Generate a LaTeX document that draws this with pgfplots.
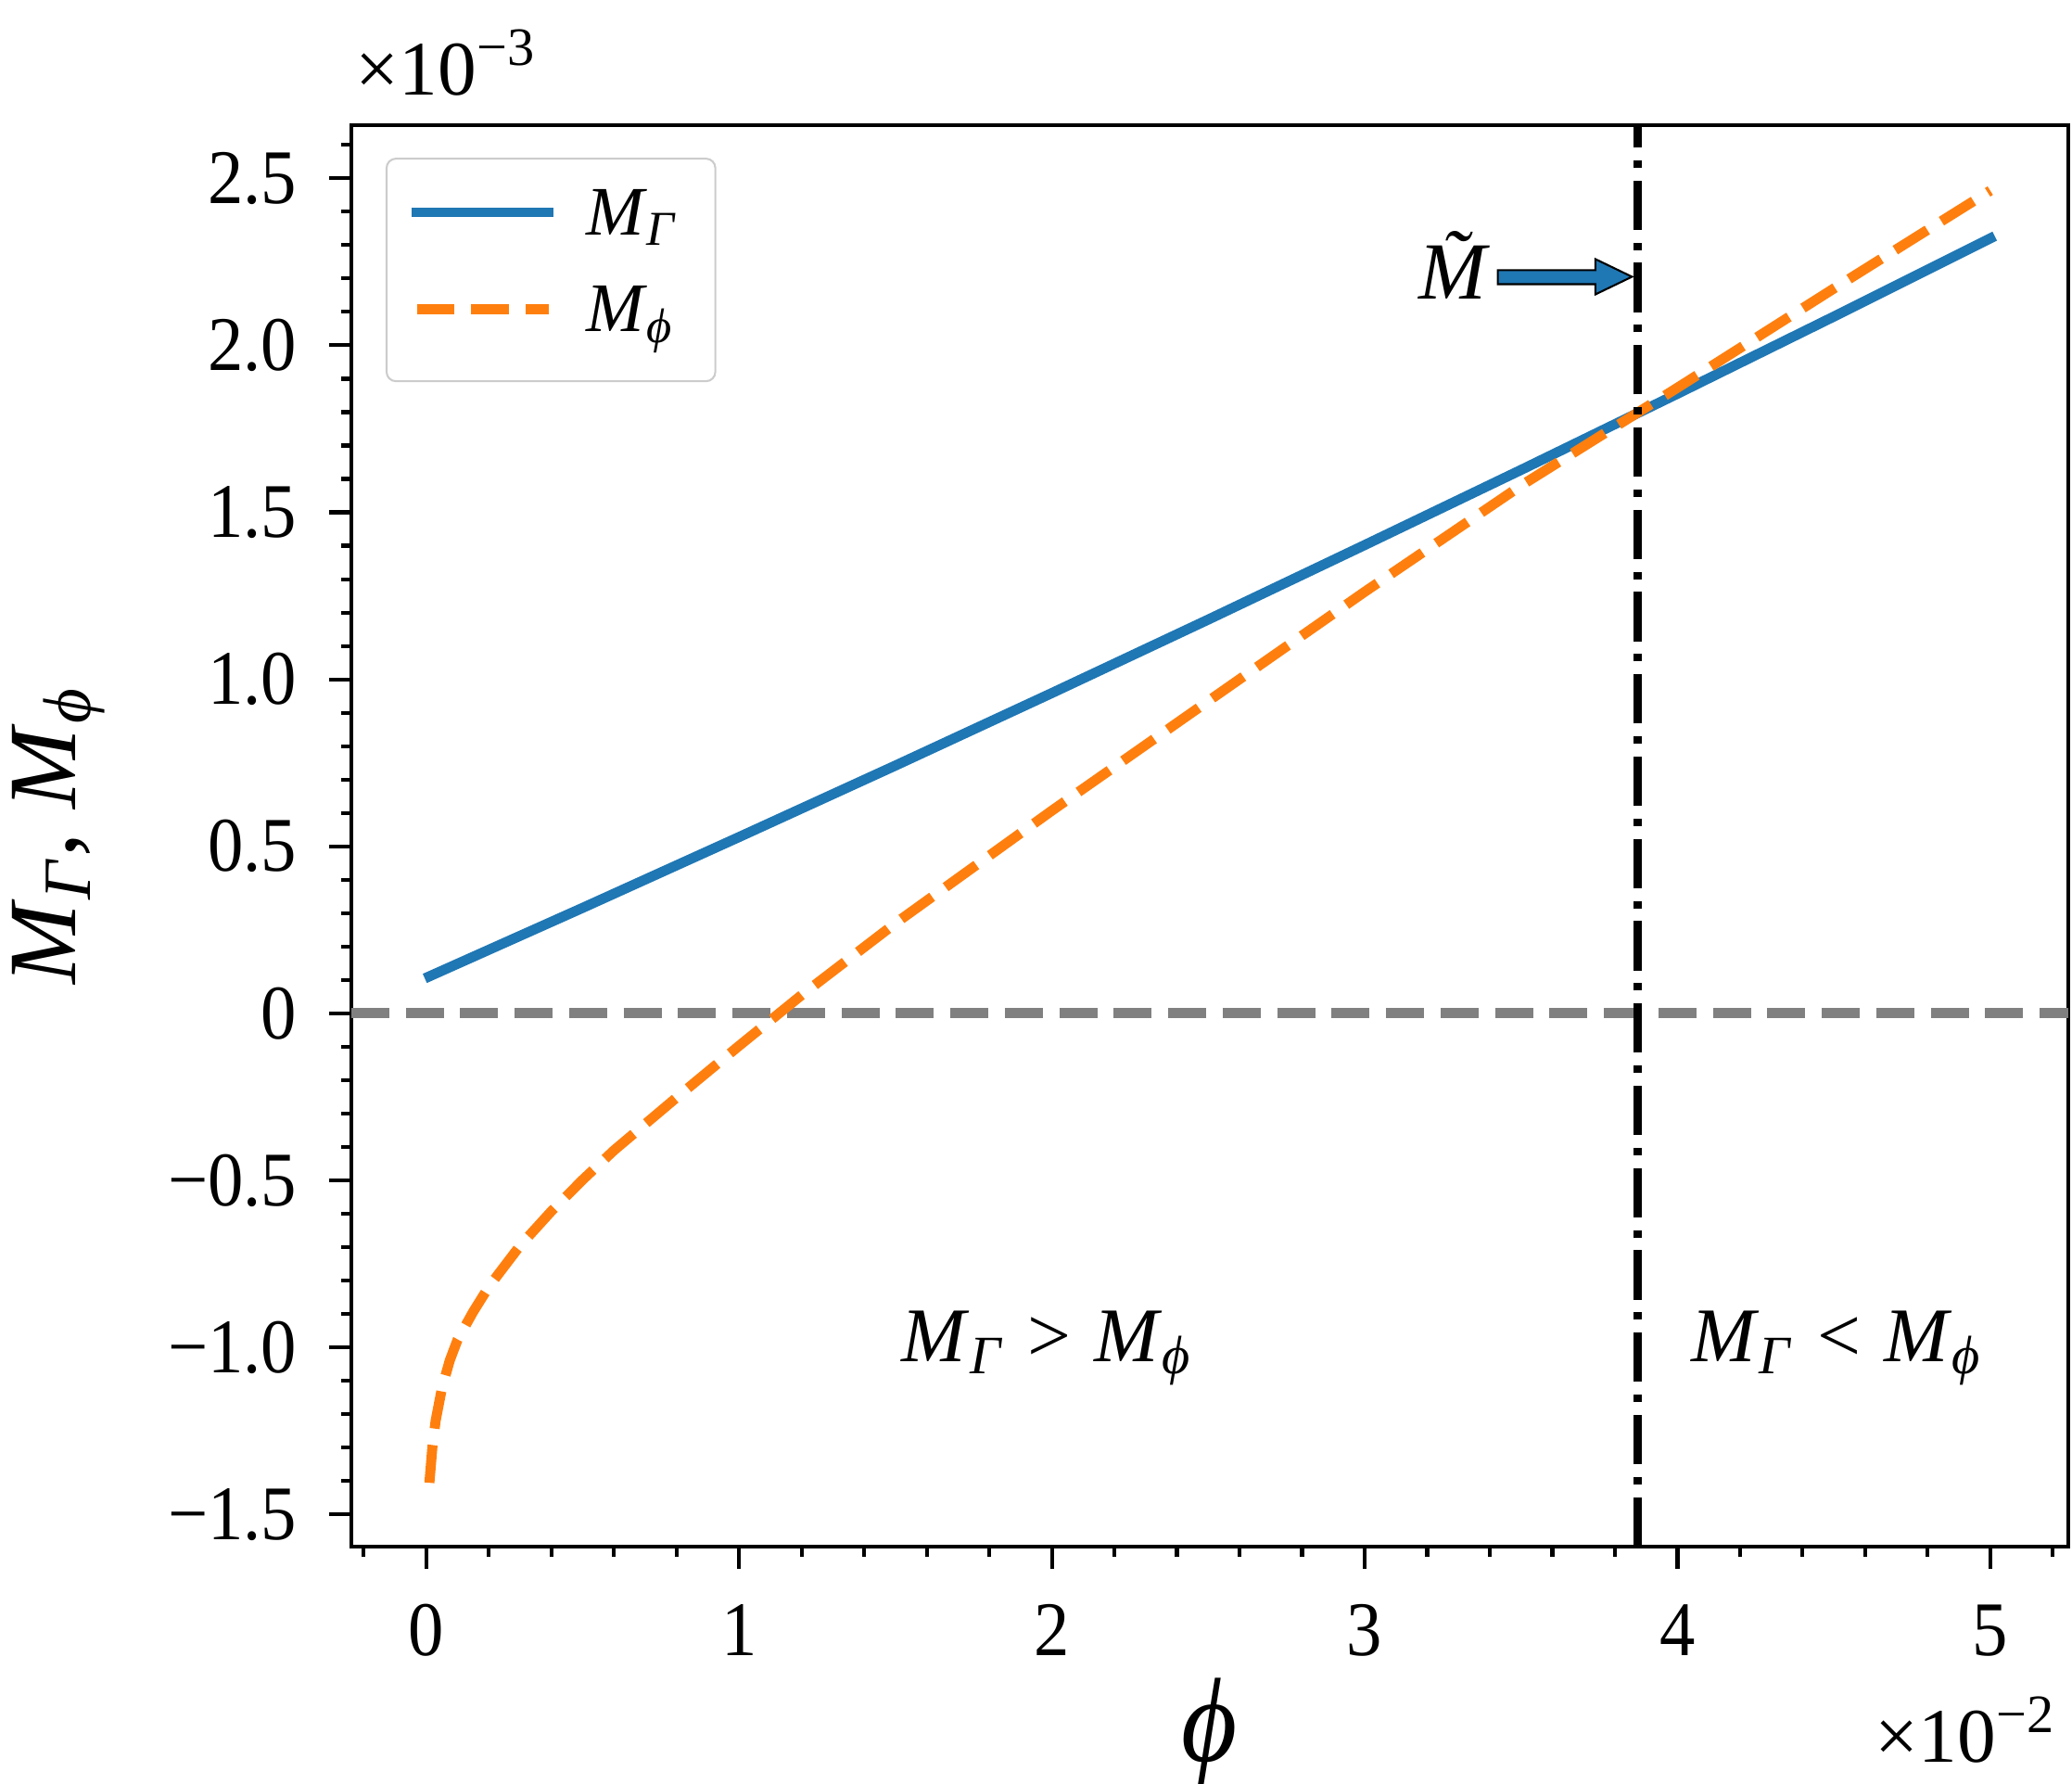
\documentclass[border=0pt]{standalone}
\usepackage{pgfplots}
\pgfplotsset{compat=1.18}
\usepackage{fontspec}
\setmainfont{Liberation Serif}
\newfontfamily\tickfont{Liberation Serif}[FakeStretch=0.92]
\newfontfamily\xlabfont{Liberation Serif}[FakeStretch=0.9]
\definecolor{c0}{HTML}{1F77B4}
\definecolor{c1}{HTML}{FF7F0E}
\definecolor{zgray}{HTML}{808080}
\definecolor{legedge}{HTML}{CCCCCC}
\newcommand{\fs}[1]{\fontsize{#1}{#1}\selectfont}
\newcommand{\MG}{\textit{M}\textsubscript{\textit{Γ}}}
\newcommand{\MP}{\textit{M}\textsubscript{\textit{ϕ}}}

\pgfplotstableread{
x y
0.01 0.111
0.5 0.316
1.0 0.528
1.5 0.742
2.0 0.959
2.5 1.179
3.0 1.402
3.5 1.627
4.0 1.855
4.5 2.086
5.0 2.320
}\blue

\pgfplotstableread{
x y
0.01 -1.405
0.02 -1.293
0.03 -1.219
0.05 -1.122
0.075 -1.039
0.1 -0.977
0.15 -0.893
0.2 -0.818
0.3 -0.695
0.4 -0.592
0.5 -0.498
0.6 -0.410
0.8 -0.252
1.0 -0.097
1.2 0.055
1.5 0.270
2.0 0.607
2.5 0.935
3.0 1.262
3.5 1.580
4.0 1.873
4.5 2.170
5.0 2.463
}\orange

\begin{document}
\begin{tikzpicture}
\begin{axis}[
  scale only axis, width=444.48pt, height=367.92pt,
  xmin=-0.2395, xmax=5.2495, ymin=-1.596, ymax=2.659,
  axis line style={line width=1pt},
  tick align=outside, xtick pos=left, ytick pos=left,
  xtick={0,1,2,3,4,5}, xticklabels={0,1,2,3,4,5},
  ytick={-1.5,-1,-0.5,0,0.5,1,1.5,2,2.5},
  yticklabels={−1.5,−1.0,−0.5,0,0.5,1.0,1.5,2.0,2.5},
  minor xtick={-0.2,0.2,0.4,0.6,0.8,1.2,1.4,1.6,1.8,2.2,2.4,2.6,2.8,3.2,3.4,3.6,3.8,4.2,4.4,4.6,4.8,5.2},
  minor ytick={-1.4,-1.3,-1.2,-1.1,-0.9,-0.8,-0.7,-0.6,-0.4,-0.3,-0.2,-0.1,0.1,0.2,0.3,0.4,0.6,0.7,0.8,0.9,1.1,1.2,1.3,1.4,1.6,1.7,1.8,1.9,2.1,2.2,2.3,2.4,2.6},
  major tick length=5.8pt, minor tick length=2.7pt,
  every tick/.style={black, line width=1pt},
  tick label style={font=\tickfont\fs{20}},
  xticklabel style={anchor=base, inner sep=0pt, yshift=-22.3pt},
  yticklabel style={anchor=east, inner sep=0pt, xshift=-8.1pt},
  xlabel={\xlabfont\fs{31}\textit{ϕ}},
  xlabel style={at={(axis description cs:0.5,-0.1307)}, anchor=center, inner sep=0pt},
  ylabel={\fs{25}\MG, \MP},
  ylabel style={at={(axis description cs:-0.1604,0.5)}, anchor=base, inner sep=0pt},
  legend image code/.code={\draw[#1] (1.2pt,5.9pt) -- (35.4pt,5.9pt);},
  legend style={at={(axis description cs:0.01998,0.9771)}, anchor=north west,
    draw=legedge, line width=0.5pt, rounded corners=2.4pt, fill=white, fill opacity=0.8,
    text opacity=1, draw opacity=1, font=\fs{18},
    inner xsep=6.5pt, inner ysep=8pt, row sep=8.4pt,
    cells={anchor=base west},
    nodes={inner sep=0pt, text height=11.8pt, text depth=4.8pt, text width=27pt, align=left},
    /tikz/every odd column/.style={column sep=8.3pt}},
]
\coordinate (SW) at (rel axis cs:0,0);
\coordinate (NE) at (rel axis cs:1,1);
\addplot[forget plot, zgray, line width=2.65pt, dash pattern=on 9.8pt off 4.3pt] coordinates {(-0.2395,0) (5.2495,0)};
\addplot[c0, line width=2.6pt, line cap=rect, line join=round] table {\blue};
\addlegendentry{\MG}
\addplot[c1, line width=2.6pt, dash pattern=on 9.8pt off 4.3pt] table {\orange};
\addlegendentry{\MP}
\addplot[forget plot, black, line width=2.1pt, dash pattern=on 12.8pt off 3.3pt on 1.9pt off 3.3pt] coordinates {(3.872,-1.596) (3.872,2.659)};
\draw[fill=c0, draw=black, line width=0.5pt, line join=miter]
  (axis cs:3.4256,2.2251) -- (axis cs:3.7378,2.2251) -- (axis cs:3.7378,2.2580) --
  (axis cs:3.8547,2.2052) -- (axis cs:3.7378,2.1524) -- (axis cs:3.7378,2.1829) --
  (axis cs:3.4256,2.1829) -- cycle;
\node[anchor=base west, inner sep=0pt, font=\fs{21}] at (axis cs:3.17,2.1384) {\textit{M̃}};
\node[anchor=base, inner sep=0pt, font=\fs{20}] at (axis cs:1.984,-1.0411) {\MG\hspace{6pt}>\hspace{6pt}\MP};
\node[anchor=base, inner sep=0pt, font=\fs{20}] at (axis cs:4.509,-1.0411) {\MG\hspace{6pt}<\hspace{6pt}\MP};
\end{axis}
\node[anchor=base west, inner sep=0pt, font=\fs{20}] at ([xshift=1.0pt,yshift=7.7pt]NE -| SW) {×10\raisebox{7.7pt}{\fs{14}−3}};
\node[anchor=base east, inner sep=0pt, font=\fs{20}] at ([xshift=-3.6pt,yshift=-55.9pt]SW -| NE) {×10\raisebox{7.7pt}{\fs{14}−2}};
\pgfresetboundingbox
\path[use as bounding box] ([xshift=-90.96pt,yshift=-61.44pt]SW) rectangle ([xshift=0.96pt,yshift=32.4pt]NE);
\end{tikzpicture}
\end{document}
